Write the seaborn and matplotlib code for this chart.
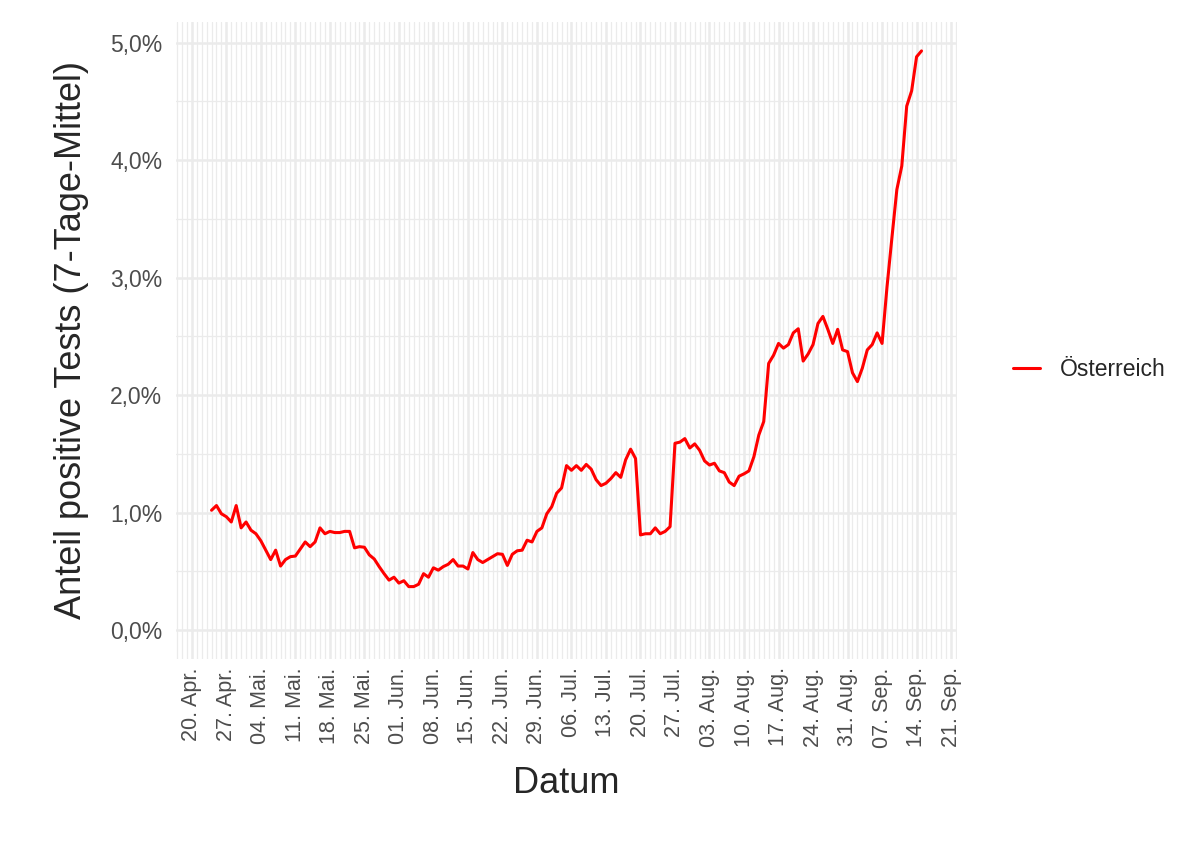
import pandas as pd
import seaborn as sns
import matplotlib.pyplot as plt
import matplotlib.dates as mdates
import matplotlib.ticker as mticker

# 7-day mean share of positive tests (%), Austria, 24 Apr - 15 Sep 2020
start_date = "2020-04-24"
apr = [1.02, 1.06, 0.99, 0.965, 0.92, 1.06, 0.87]
mai = [0.92, 0.85, 0.82, 0.76, 0.68, 0.60, 0.68, 0.545, 0.60, 0.625,
       0.63, 0.69, 0.75, 0.71, 0.75, 0.87, 0.82, 0.84, 0.83, 0.83,
       0.84, 0.84, 0.70, 0.71, 0.705, 0.64, 0.605, 0.54, 0.48, 0.425, 0.45]
jun = [0.40, 0.42, 0.37, 0.37, 0.39, 0.48, 0.45, 0.53, 0.51, 0.54,
       0.56, 0.60, 0.545, 0.545, 0.52, 0.66, 0.60, 0.575, 0.60, 0.625,
       0.65, 0.645, 0.55, 0.645, 0.675, 0.68, 0.765, 0.75, 0.84, 0.87]
jul = [0.99, 1.05, 1.165, 1.21, 1.40, 1.36, 1.40, 1.36, 1.41, 1.37,
       1.28, 1.23, 1.25, 1.29, 1.34, 1.30, 1.45, 1.54, 1.46, 0.81,
       0.82, 0.82, 0.87, 0.82, 0.84, 0.88, 1.59, 1.60, 1.63, 1.55, 1.585]
aug = [1.53, 1.44, 1.405, 1.42, 1.355, 1.34, 1.26, 1.23, 1.31, 1.33,
       1.355, 1.475, 1.66, 1.775, 2.27, 2.34, 2.44, 2.40, 2.43, 2.53,
       2.565, 2.29, 2.35, 2.43, 2.61, 2.67, 2.56, 2.44, 2.56, 2.385, 2.37]
sep = [2.19, 2.115, 2.23, 2.385, 2.43, 2.53, 2.44, 2.92, 3.34, 3.75,
       3.95, 4.46, 4.59, 4.88, 4.93]

monate = {4: "Apr.", 5: "Mai.", 6: "Jun.", 7: "Jul.", 8: "Aug.", 9: "Sep."}

values = apr + mai + jun + jul + aug + sep
df = pd.DataFrame({
    "Datum": pd.date_range(start_date, periods=len(values), freq="D"),
    "Anteil": values,
    "Land": "Österreich",
})

sns.set_style("whitegrid")
plt.rcParams["font.family"] = ["Liberation Sans", "DejaVu Sans"]

fig = plt.figure(figsize=(12, 8.58), dpi=100)
ax = fig.add_axes([0.1467, 0.2319, 0.6508, 0.7425])

sns.lineplot(data=df, x="Datum", y="Anteil", hue="Land",
             palette={"Österreich": "#FF0000"}, linewidth=2.2, ax=ax)

# axis limits like ggplot's 5% expansion, y expanded to include 0
d0, d1 = df["Datum"].min(), df["Datum"].max()
pad = (d1 - d0) * 0.05
ax.set_xlim(d0 - pad, d1 + pad)
ymax = max(values)
ax.set_ylim(-0.05 * ymax, ymax * 1.05)

ax.xaxis.set_major_locator(mdates.WeekdayLocator(byweekday=mdates.MO))
ax.xaxis.set_minor_locator(mdates.DayLocator())
ax.xaxis.set_major_formatter(mticker.FuncFormatter(
    lambda v, pos: mdates.num2date(v).strftime("%d. ") + monate[mdates.num2date(v).month]))
ax.yaxis.set_major_locator(mticker.MultipleLocator(1))
ax.yaxis.set_minor_locator(mticker.MultipleLocator(0.5))
ax.yaxis.set_major_formatter(mticker.FuncFormatter(
    lambda v, pos: f"{v:.1f}%".replace(".", ",")))

ax.grid(which="major", color="#EBEBEB", linewidth=1.8)
ax.grid(which="minor", color="#EBEBEB", linewidth=0.9)
ax.set_axisbelow(True)
for s in ax.spines.values():
    s.set_visible(False)

ax.tick_params(axis="x", which="major", labelrotation=90, labelsize=15.5,
               labelcolor="#4D4D4D", length=0, pad=6)
ax.tick_params(axis="y", which="major", labelsize=16.5, labelcolor="#4D4D4D",
               length=0, pad=10)
ax.tick_params(which="minor", length=0)

ax.set_xlabel("Datum", fontsize=26)
ax.set_ylabel("Anteil positive Tests (7-Tage-Mittel)", fontsize=26)
ax.xaxis.set_label_coords(0.5, -0.168)
ax.yaxis.set_label_coords(-0.112, 0.5)

ax.legend(title=None, frameon=False, loc="center left",
          bbox_to_anchor=(1.045, 0.455), fontsize=16.5,
          handlelength=1.2, handletextpad=0.85)

fig.savefig("out.png", dpi=100)
